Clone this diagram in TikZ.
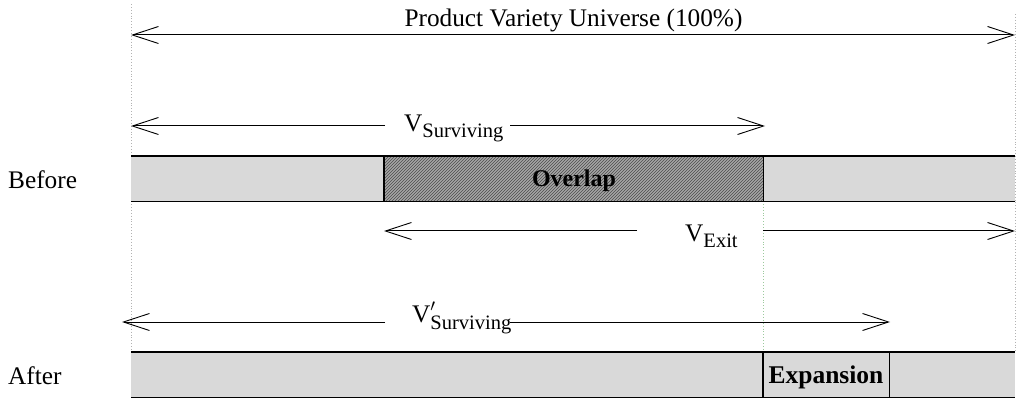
\documentclass[tikz,border=0pt]{standalone}
\usepackage{fontspec}
\setmainfont{Liberation Serif}
\usetikzlibrary{arrows.meta,patterns}
\newcommand\mainsz{\fontsize{25.3}{30}\selectfont}
\newcommand\subsz{\fontsize{20.5}{22}\selectfont}
\newcommand\Vlab[1]{V\raisebox{-6pt}{\subsz #1}}
\tikzset{
  lbl/.style={inner sep=0pt, font=\mainsz},
  boldlbl/.style={inner sep=0pt, font=\fontsize{24}{28}\selectfont\bfseries},
  barseg/.style={draw=none, inner sep=0pt, anchor=north west, fill=barfill},
  guide/.style={draw=gray!60, dotted, line width=0.9pt},
  barb/.tip={Straight Barb[length=26pt,width=17pt,line width=0.9pt]},
  dim/.style={line width=1pt, -barb},
  dimboth/.style={line width=1pt, barb-barb},
  barline/.style={line width=1.4pt},
}
\definecolor{barfill}{HTML}{D9D9D9}
\definecolor{hatchbase}{HTML}{A6A6A6}
\begin{document}
\begin{tikzpicture}[x=1pt,y=-1pt]
\useasboundingbox (0,0) rectangle (1018,398);
% guides
\coordinate (gl1) at (131,4);   \coordinate (gl2) at (131,398);
\coordinate (gr1) at (1015,14); \coordinate (gr2) at (1015,352);
\coordinate (gm1) at (763,201); \coordinate (gm2) at (763,352);
\draw[guide] (gl1) -- (gl2);
\draw[guide] (gr1) -- (gr2);
\draw[guide, draw=green!30!gray!60] (gm1) -- (gm2);

% Before bar
\node[barseg, minimum width=253pt, minimum height=45pt] (b1) at (131,156) {};
\node[barseg, fill=hatchbase, minimum width=379pt, minimum height=45pt] (b2) at (384,156) {};
\fill[pattern=north east lines, pattern color=gray!60!black] (b2.north west) rectangle (b2.south east);
\node[barseg, minimum width=252pt, minimum height=45pt] (b3) at (763,156) {};
\draw[barline] (b1.north west) -- (b3.north east);
\draw[barline] (b1.south west) -- (b3.south east);
\draw[barline] (b2.north west) -- (b2.south west);
\draw[barline] (b2.north east) -- (b2.south east);
\node[boldlbl, anchor=base] (ov) at (574,187) {Overlap};

% After bar
\node[barseg, minimum width=632pt, minimum height=45pt] (a1) at (131,352) {};
\node[barseg, minimum width=126pt, minimum height=45pt] (a2) at (763,352) {};
\node[barseg, minimum width=126pt, minimum height=45pt] (a3) at (889,352) {};
\draw[line width=2.2pt] (a1.north west) -- (a3.north east);
\draw[barline] (a1.south west) -- (a3.south east);
\draw[barline] (a2.north west) -- (a2.south west);
\draw[barline] (a2.north east) -- (a2.south east);
\node[boldlbl, anchor=base, font=\fontsize{25.5}{28}\selectfont\bfseries] (ex) at (826,383) {Expansion};

% side labels
\node[lbl, anchor=base west] (before) at (8,189) {Before};
\node[lbl, anchor=base west] (after) at (8,384) {After};

% Universe arrow
\coordinate (u1) at (131,35); \coordinate (u2) at (1015,35);
\draw[dimboth] (u1) -- (u2);
\node[lbl, anchor=base] (univ) at (573.5,27) {Product Variety Universe (100\%)};

% V surviving
\node[lbl, anchor=base west] (vs) at (404,132) {\Vlab{Surviving}};
\coordinate (vsL) at (131,126); \coordinate (vsR) at (765,126);
\coordinate (vsl) at (385,126); \coordinate (vsr) at (510,126);
\draw[dim] (vsl) -- (vsL);
\draw[dim] (vsr) -- (vsR);

% V exit
\node[lbl, anchor=base west] (ve) at (685,241.5) {\Vlab{Exit}};
\coordinate (veL) at (384,231); \coordinate (veR) at (1015,231);
\coordinate (vel) at (637,231); \coordinate (ver) at (763,231);
\draw[dim] (vel) -- (veL);
\draw[dim] (ver) -- (veR);

% V' surviving
\node[lbl, anchor=base west] (vp) at (412,323) {V\rlap{\raisebox{2pt}{$'$}}\raisebox{-6pt}{\subsz Surviving}};
\coordinate (vpL) at (122,322); \coordinate (vpR) at (890,322);
\coordinate (vpl) at (385,322); \coordinate (vpr) at (510,322);
\draw[dim] (vpl) -- (vpL);
\draw[dim] (vpr) -- (vpR);
\end{tikzpicture}
\end{document}
